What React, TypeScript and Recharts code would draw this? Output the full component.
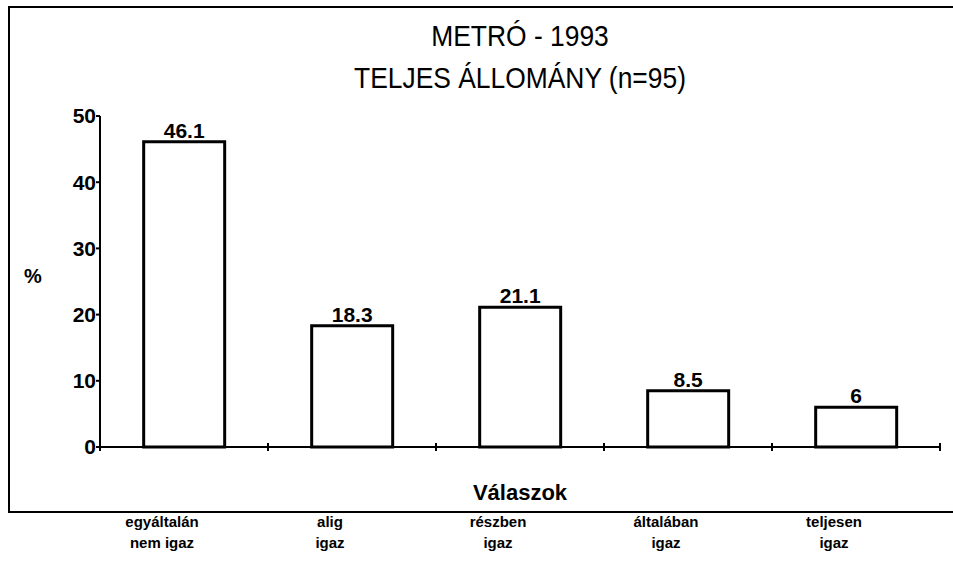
import { BarChart, Bar, XAxis, YAxis, LabelList, Label } from 'recharts';

// Válaszok (answers) and share of respondents in %
const categories = [
  'egyáltalán\nnem igaz',
  'alig\nigaz',
  'részben\nigaz',
  'általában\nigaz',
  'teljesen\nigaz',
];
const values = [46.1, 18.3, 21.1, 8.5, 6];
const yTicks = [0, 10, 20, 30, 40, 50];

const titleLines = ['METRÓ - 1993', 'TELJES ÁLLOMÁNY (n=95)'];

const NARROW = '"Liberation Sans Narrow", "Liberation Sans", Arial, sans-serif';
const BOLD = '"Liberation Sans", Arial, sans-serif';

const data = categories.map((name, i) => ({ name, value: values[i] }));

function CategoryTick(props: any) {
  const { x, y, payload, index, visibleTicksCount, width } = props;
  const half = payload.offset || width / (2 * visibleTicksCount);
  const lines = String(payload.value).split('\n');
  return (
    <g>
      <line x1={x - half} x2={x - half} y1={y - 4} y2={y + 4} stroke="#000" strokeWidth={2} />
      {index === visibleTicksCount - 1 && (
        <line x1={x + half} x2={x + half} y1={y - 4} y2={y + 4} stroke="#000" strokeWidth={2} />
      )}
      {lines.map((t, i) => (
        <text
          key={i}
          x={x - 22}
          y={y + 80 + i * 21}
          textAnchor="middle"
          fontFamily={NARROW}
          fontWeight="bold"
          fontSize={15}
          fill="#000"
        >
          {t}
        </text>
      ))}
    </g>
  );
}

export default function App() {
  return (
    <div
      style={{
        position: 'absolute',
        left: 0,
        top: 0,
        width: 953,
        height: 562,
        overflow: 'hidden',
        background: '#fff',
      }}
    >
      {/* frame round the chart, open on the right */}
      <div
        style={{
          position: 'absolute',
          left: 8,
          top: 6,
          width: 980,
          height: 503,
          border: '2px solid #000',
        }}
      />
      {titleLines.map((t, i) => (
        <div
          key={t}
          style={{
            position: 'absolute',
            left: 0,
            width: 1040,
            top: 18 + i * 42,
            textAlign: 'center',
            fontFamily: NARROW,
            fontSize: 30,
            lineHeight: '36px',
            color: '#000',
            transform: 'scaleX(0.88)',
            transformOrigin: '520px 0',
          }}
        >
          {t}
        </div>
      ))}
      <div style={{ position: 'absolute', left: 0, top: 0 }}>
        <BarChart
          width={953}
          height={562}
          data={data}
          margin={{ top: 116, right: 13, bottom: 0, left: 60 }}
          barCategoryGap="26%"
        >
          <XAxis
            dataKey="name"
            height={115}
            axisLine={{ stroke: '#000', strokeWidth: 2 }}
            tickLine={false}
            tickSize={0}
            tickMargin={0}
            interval={0}
            tick={<CategoryTick />}
          >
            <Label
              value="Válaszok"
              position="insideTop"
              offset={37}
              style={{ fontFamily: NARROW, fontWeight: 'bold', fontSize: 22, fill: '#000' }}
            />
          </XAxis>
          <YAxis
            width={40}
            domain={[0, 50]}
            ticks={yTicks}
            interval={0}
            axisLine={{ stroke: '#000', strokeWidth: 2 }}
            tickLine={{ stroke: '#000', strokeWidth: 2 }}
            tickSize={4}
            tickMargin={0}
            tick={{ fontFamily: BOLD, fontWeight: 'bold', fontSize: 21, fill: '#000' }}
          >
            <Label
              value="%"
              position="insideLeft"
              offset={-36}
              dy={-6}
              style={{ fontFamily: BOLD, fontWeight: 'bold', fontSize: 20, fill: '#000' }}
            />
          </YAxis>
          <Bar dataKey="value" fill="#fff" stroke="#000" strokeWidth={3} isAnimationActive={false}>
            <LabelList
              dataKey="value"
              position="top"
              offset={4}
              style={{ fontFamily: BOLD, fontWeight: 'bold', fontSize: 21, fill: '#000' }}
            />
          </Bar>
        </BarChart>
      </div>
    </div>
  );
}
